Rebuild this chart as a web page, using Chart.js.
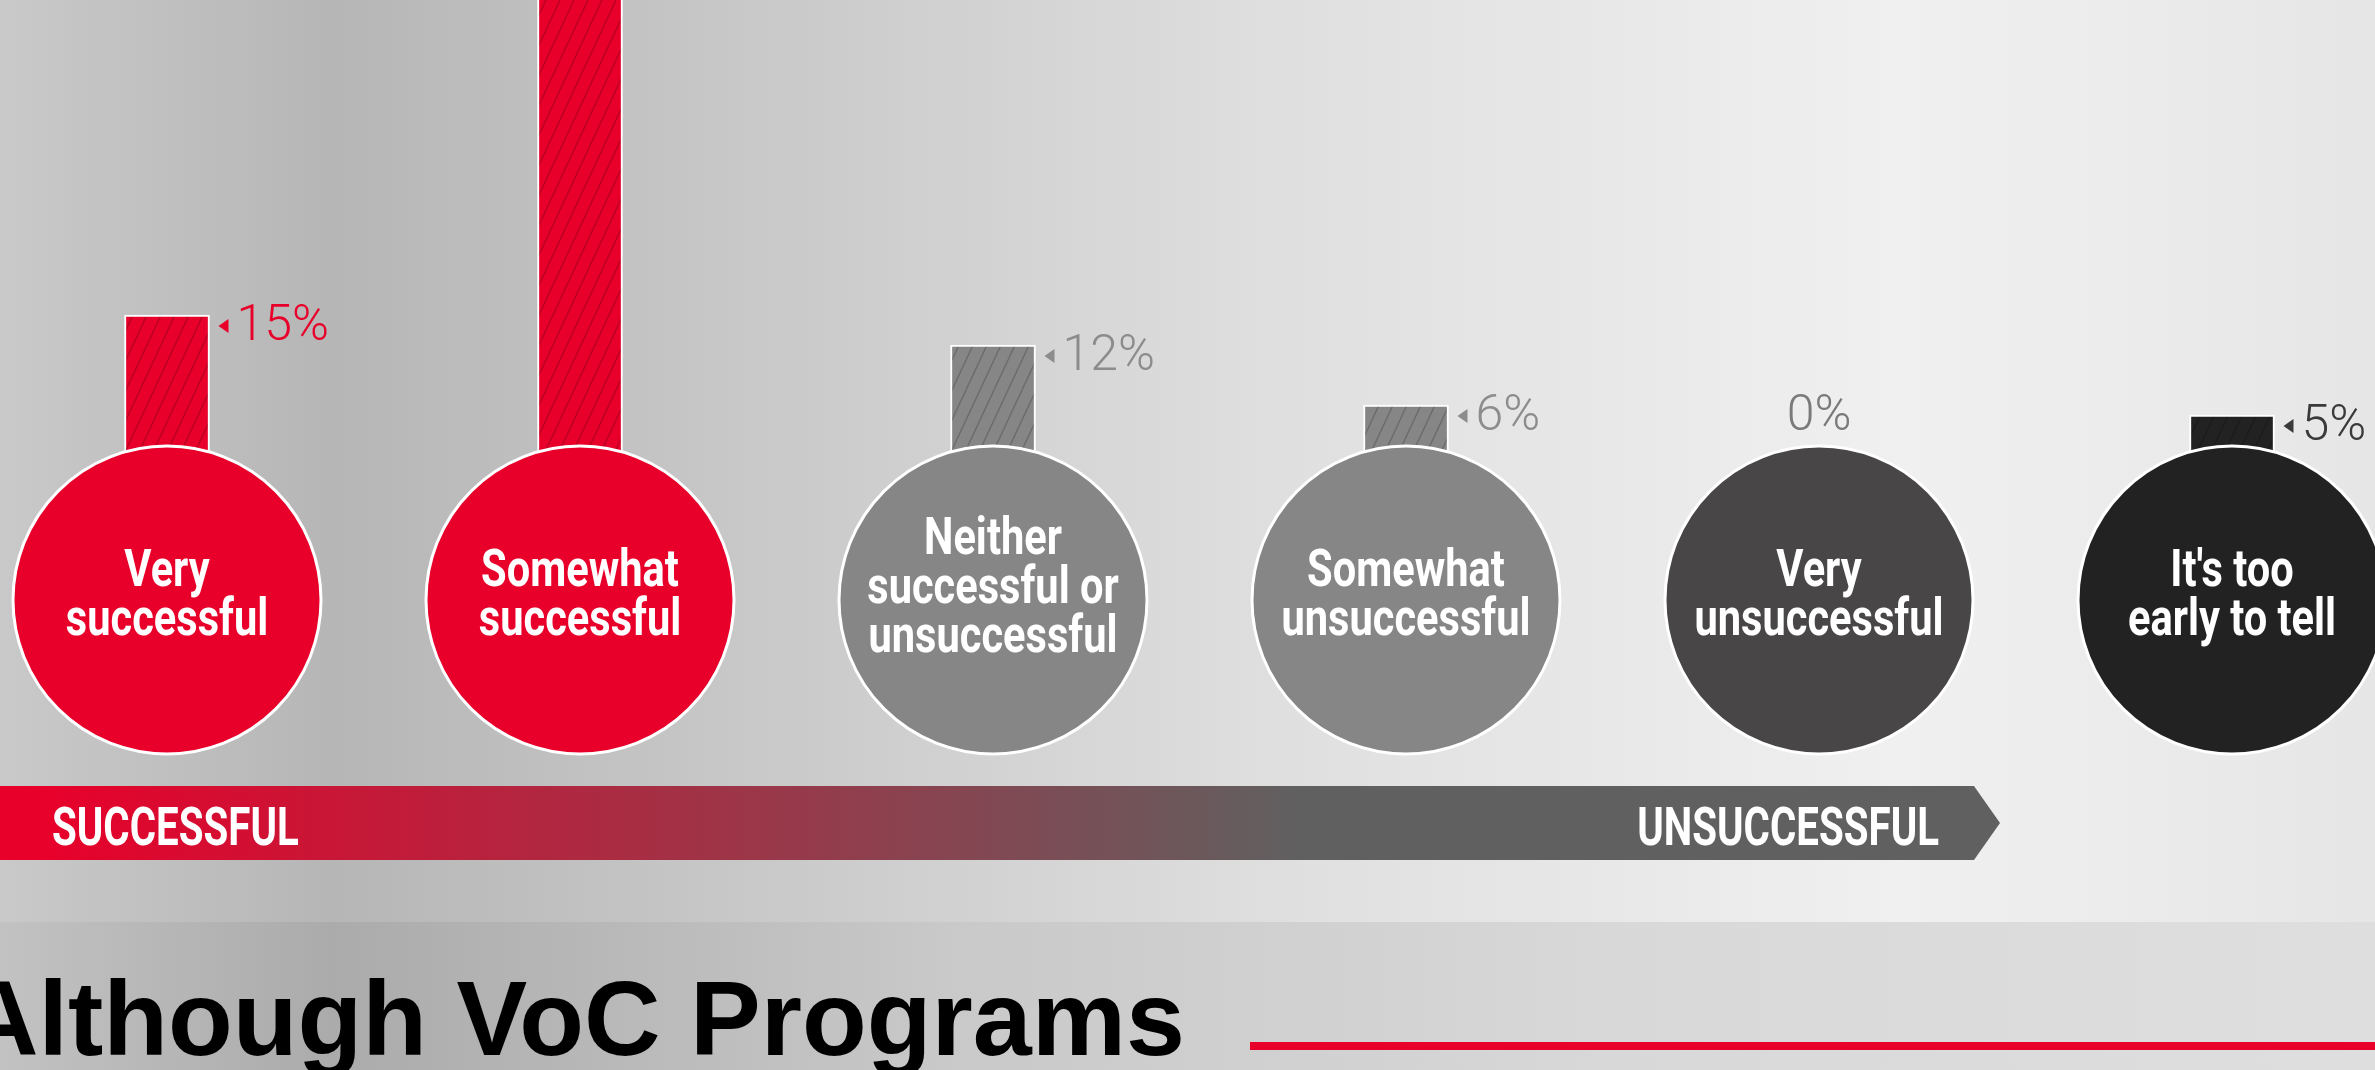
<!DOCTYPE html>
<html>
<head>
<meta charset="utf-8">
<title>VoC program success</title>
<script src="https://cdn.jsdelivr.net/npm/chart.js@4"></script>
<style>
  html, body { margin: 0; padding: 0; overflow: hidden; background: #d6d6d6; }
  #wrap { width: 2375px; height: 1070px; }
</style>
</head>
<body>
<div id="wrap"><canvas id="successChart" width="2375" height="1070"></canvas></div>
<script>
// answer categories (one array entry per line of text in the circle)
const categories = [
    ['Very', 'successful'],
    ['Somewhat', 'successful'],
    ['Neither', 'successful or', 'unsuccessful'],
    ['Somewhat', 'unsuccessful'],
    ['Very', 'unsuccessful'],
    ["It's too", 'early to tell']
];
// share of respondents, %
const shares = [15, 62, 12, 6, 0, 5];
const scaleEnds = ['SUCCESSFUL', 'UNSUCCESSFUL'];
const headline = 'Although VoC Programs';

// styling
const RED = '#e8002a';
const fillColors = [RED, RED, '#868686', '#868686', '#484647', '#222222'];
const labelColors = [RED, RED, '#8c8c8c', '#8c8c8c', '#7a7a7a', '#3a3a3a'];

const canvas = document.getElementById('successChart');
const ctx = canvas.getContext('2d');

function hatch(color) {
    const tile = document.createElement('canvas');
    tile.width = 14;
    tile.height = 30;
    const t = tile.getContext('2d');
    t.fillStyle = color;
    t.fillRect(0, 0, 14, 30);
    t.strokeStyle = 'rgba(0,0,0,0.2)';
    t.lineWidth = 1.4;
    for (let k = -1; k <= 1; k++) {
        t.beginPath();
        t.moveTo(k * 14, 30);
        t.lineTo(k * 14 + 14, 0);
        t.stroke();
    }
    return ctx.createPattern(tile, 'repeat');
}

// squeezed text, to get close to the condensed face of the original
function condensedText(c, text, x, y, squeeze, align) {
    c.save();
    c.translate(x, y);
    c.scale(squeeze, 1);
    c.textAlign = align;
    c.fillText(text, 0, 0);
    c.restore();
}

const backdrop = {
    id: 'backdrop',
    beforeDraw(chart) {
        const c = chart.ctx;
        const w = chart.width;
        let g = c.createLinearGradient(0, 0, w, 0);
        g.addColorStop(0, '#c9c9c9');
        g.addColorStop(0.14, '#b6b6b6');
        g.addColorStop(0.35, '#cccccc');
        g.addColorStop(0.55, '#e0e0e0');
        g.addColorStop(0.8, '#f0f0f0');
        g.addColorStop(1, '#e6e6e6');
        c.fillStyle = g;
        c.fillRect(0, 0, w, 922);

        g = c.createLinearGradient(0, 0, w, 0);
        g.addColorStop(0, '#c2c2c2');
        g.addColorStop(0.14, '#ababab');
        g.addColorStop(0.4, '#c9c9c9');
        g.addColorStop(0.7, '#d9d9d9');
        g.addColorStop(1, '#dedede');
        c.fillStyle = g;
        c.fillRect(0, 922, w, chart.height - 922);
    }
};

const medallions = {
    id: 'medallions',
    afterDatasetsDraw(chart) {
        const c = chart.ctx;
        const xs = chart.scales.x;
        const ys = chart.scales.y;
        const base = ys.getPixelForValue(0);
        const meta = chart.getDatasetMeta(0);

        // value labels
        meta.data.forEach((bar, i) => {
            const v = shares[i];
            c.fillStyle = labelColors[i];
            c.font = '300 50px Roboto, "Open Sans", sans-serif';
            c.textBaseline = 'middle';
            if (v === 0) {
                c.textAlign = 'center';
                c.fillText(v + '%', bar.x, base - 48);
                return;
            }
            const right = bar.x + bar.width / 2;
            const my = bar.y + 11;
            c.beginPath();
            c.moveTo(right + 9, my);
            c.lineTo(right + 19, my - 7);
            c.lineTo(right + 19, my + 7);
            c.closePath();
            c.fill();
            c.textAlign = 'left';
            c.fillText(v + '%', right + 27, my + 1);
        });

        // circles with the answer text
        categories.forEach((lines, i) => {
            const cx = xs.getPixelForValue(i);
            const cy = base + 135;
            c.beginPath();
            c.arc(cx, cy, 154, 0, Math.PI * 2);
            c.fillStyle = fillColors[i];
            c.fill();
            c.lineWidth = 3;
            c.strokeStyle = '#ffffff';
            c.stroke();

            c.fillStyle = '#ffffff';
            c.font = 'bold 52px Roboto, "Liberation Sans", sans-serif';
            c.textBaseline = 'alphabetic';
            const lh = 49;
            const mid = cy - 8 - (lines.length - 2) * 7;
            const firstBase = mid + 18 - (lines.length - 1) * lh / 2;
            lines.forEach((ln, j) => condensedText(c, ln, cx, firstBase + j * lh, 0.8, 'center'));
        });

        // success -> unsuccess arrow banner
        const top = 786, bot = 860, tip = 2000, end = 1974;
        const g = c.createLinearGradient(0, 0, 1300, 0);
        g.addColorStop(0, RED);
        g.addColorStop(0.03, RED);
        g.addColorStop(1, '#606060');
        c.fillStyle = g;
        c.beginPath();
        c.moveTo(0, top);
        c.lineTo(end, top);
        c.lineTo(tip, (top + bot) / 2);
        c.lineTo(end, bot);
        c.lineTo(0, bot);
        c.closePath();
        c.fill();
        c.fillStyle = '#ffffff';
        c.font = 'bold 53px Roboto, "Liberation Sans", sans-serif';
        condensedText(c, scaleEnds[0], 52, 845, 0.76, 'left');
        condensedText(c, scaleEnds[1], 1939, 845, 0.76, 'right');

        // section heading below
        c.fillStyle = '#000000';
        c.font = 'bold 106px "Liberation Sans", Arial, sans-serif';
        condensedText(c, headline, -38, 1055, 1.0, 'left');
        c.fillStyle = RED;
        c.fillRect(1250, 1042, 1125, 8);
    }
};

new Chart(ctx, {
    type: 'bar',
    data: {
        labels: categories,
        datasets: [{
            data: shares,
            backgroundColor: fillColors.map(hatch),
            borderColor: '#ffffff',
            borderWidth: { top: 2, left: 2, right: 2, bottom: 0 },
            borderSkipped: 'bottom',
            barThickness: 85,
            clip: false
        }]
    },
    options: {
        responsive: false,
        animation: false,
        devicePixelRatio: 1,
        layout: { padding: { left: 167, right: 143, top: 0, bottom: 605 } },
        scales: {
            x: { type: 'category', offset: false, display: false },
            y: { min: 0, max: 46.5, display: false }
        },
        plugins: {
            legend: { display: false },
            tooltip: { enabled: false }
        }
    },
    plugins: [backdrop, medallions]
});
</script>
</body>
</html>
